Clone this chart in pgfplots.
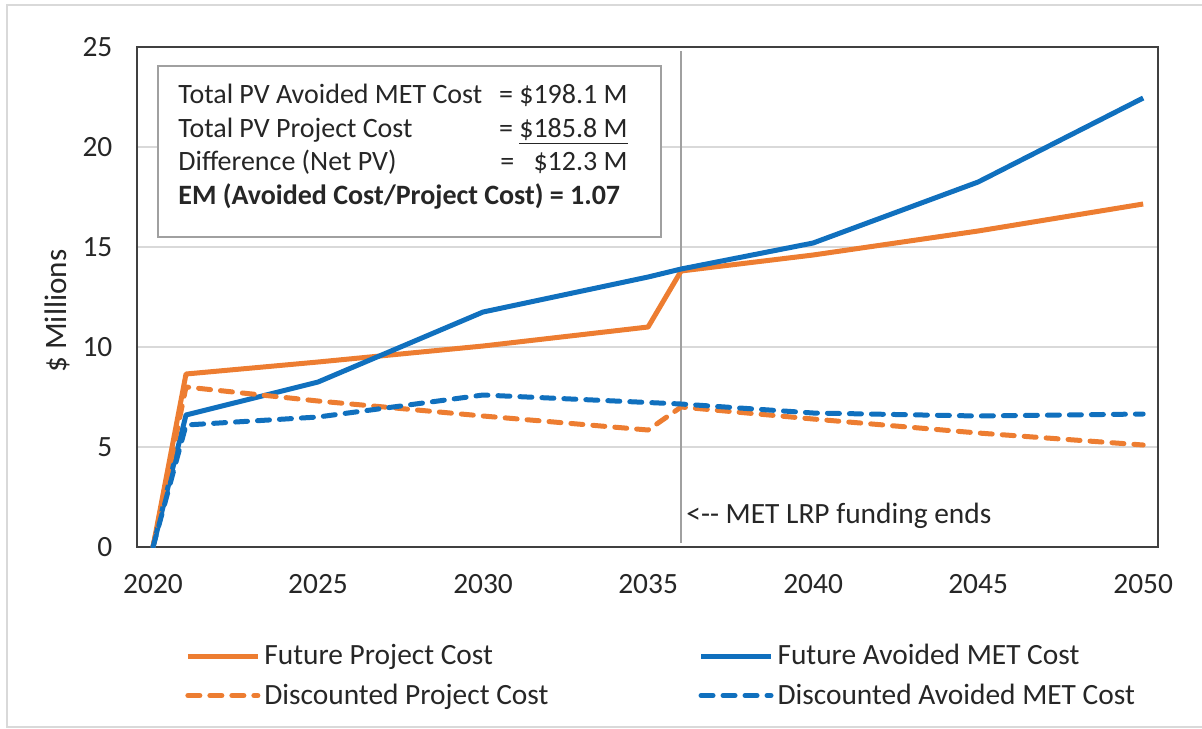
\documentclass[border=0pt]{standalone}
\usepackage{pgfplots}
\pgfplotsset{compat=1.18}
\usepackage{fontspec}
\setmainfont{Carlito}
\definecolor{porange}{RGB}{237,125,49}
\definecolor{pblue}{RGB}{16,112,190}
\definecolor{gridgray}{RGB}{217,217,217}
\definecolor{vgray}{RGB}{160,160,160}
\definecolor{framegray}{RGB}{217,217,217}
\begin{document}
\begin{tikzpicture}
\useasboundingbox (0pt,0pt) rectangle (601pt,-364pt);
\draw[framegray, line width=1pt] (3.5pt,-2.5pt) rectangle (620pt,-363.5pt);
\begin{axis}[
  at={(68.5pt,-273.5pt)}, anchor=south west,
  scale only axis, width=510.5pt, height=250pt,
  xmin=2019.515, xmax=2050.45, ymin=0, ymax=25,
  xtick={2020,2025,...,2050}, ytick={0,5,...,25},
  /pgf/number format/1000 sep={},
  /pgf/number format/assume math mode=true,
  ymajorgrids, grid style={gridgray, line width=1pt},
  major tick length=0pt,
  axis line style={draw=black!75, line width=1pt},
  tick label style={font=\fontsize{14.7}{17}\selectfont, text=black!85},
  x tick label style={yshift=-10.3pt},
  y tick label style={xshift=-8.8pt},
  ylabel={\$ Millions},
  ylabel style={at={(axis description cs:-0.0784,0.472)}, anchor=center, font=\fontsize{15.6}{18}\selectfont, text=black!85},
  legend columns=2,
  legend cell align=left,
  legend image code/.code={\draw[#1] (0pt,0pt) -- (35pt,0pt);},
  legend style={at={(axis description cs:0.0411,-0.178)}, anchor=north west, draw=none, fill=none,
    font=\fontsize{14.7}{17}\selectfont, text=black!85, row sep=4pt,
    /tikz/every even column/.append style={column sep=73pt}},
]
\draw[vgray, line width=1pt] (axis cs:2036,0.2) -- (axis cs:2036,24.8);
\addplot[porange, line width=2.5pt, line join=round] coordinates {
 (2020,0) (2021,8.65) (2025,9.25) (2030,10.05) (2035,11.0) (2036,13.8) (2040,14.6) (2045,15.8) (2050,17.15)};
\addlegendentry{Future Project Cost}
\addplot[pblue, line width=2.5pt, line join=round] coordinates {
 (2020,0) (2021,6.6) (2025,8.25) (2030,11.75) (2035,13.5) (2036,13.9) (2040,15.2) (2045,18.25) (2050,22.45)};
\addlegendentry{Future Avoided MET Cost}
\addplot[porange, line width=2.5pt, line join=round, line cap=round, dash pattern=on 6pt off 5pt] coordinates {
 (2020,0) (2021,8.0) (2025,7.3) (2030,6.55) (2035,5.85) (2036,7.0) (2040,6.4) (2045,5.7) (2050,5.1)};
\addlegendentry{Discounted Project Cost}
\addplot[pblue, line width=2.5pt, line join=round, line cap=round, dash pattern=on 6pt off 5pt] coordinates {
 (2020,0) (2021,6.1) (2025,6.5) (2030,7.6) (2036,7.15) (2040,6.7) (2045,6.55) (2050,6.65)};
\addlegendentry{Discounted Avoided MET Cost}
\node[anchor=base west, inner sep=0pt, font=\fontsize{14.7}{17}\selectfont, text=black!85] at (axis cs:2036.15,1.2) {<-{}- MET LRP funding ends};
\end{axis}
\draw[vgray, line width=1pt, fill=white] (79pt,-33pt) rectangle (330.5pt,-118.5pt);
\begin{scope}[every node/.style={inner sep=0pt, font=\fontsize{14}{16}\selectfont, text=black!85}]
\node[anchor=base west] at (89pt,-51.5pt) {Total PV Avoided MET Cost};
\node[anchor=base east] at (314pt,-51.5pt) {= \$198.1 M};
\node[anchor=base west] at (89pt,-68.5pt) {Total PV Project Cost};
\node[anchor=base east] at (314pt,-68.5pt) {= \underline{\$185.8 M}};
\node[anchor=base west] at (89pt,-85pt) {Difference (Net PV)};
\node[anchor=base west] at (250pt,-85pt) {=};
\node[anchor=base east] at (314pt,-85pt) {\$12.3 M};
\node[anchor=base west] at (89pt,-102pt) {\bfseries EM (Avoided Cost/Project Cost) = 1.07};
\end{scope}
\end{tikzpicture}
\end{document}
